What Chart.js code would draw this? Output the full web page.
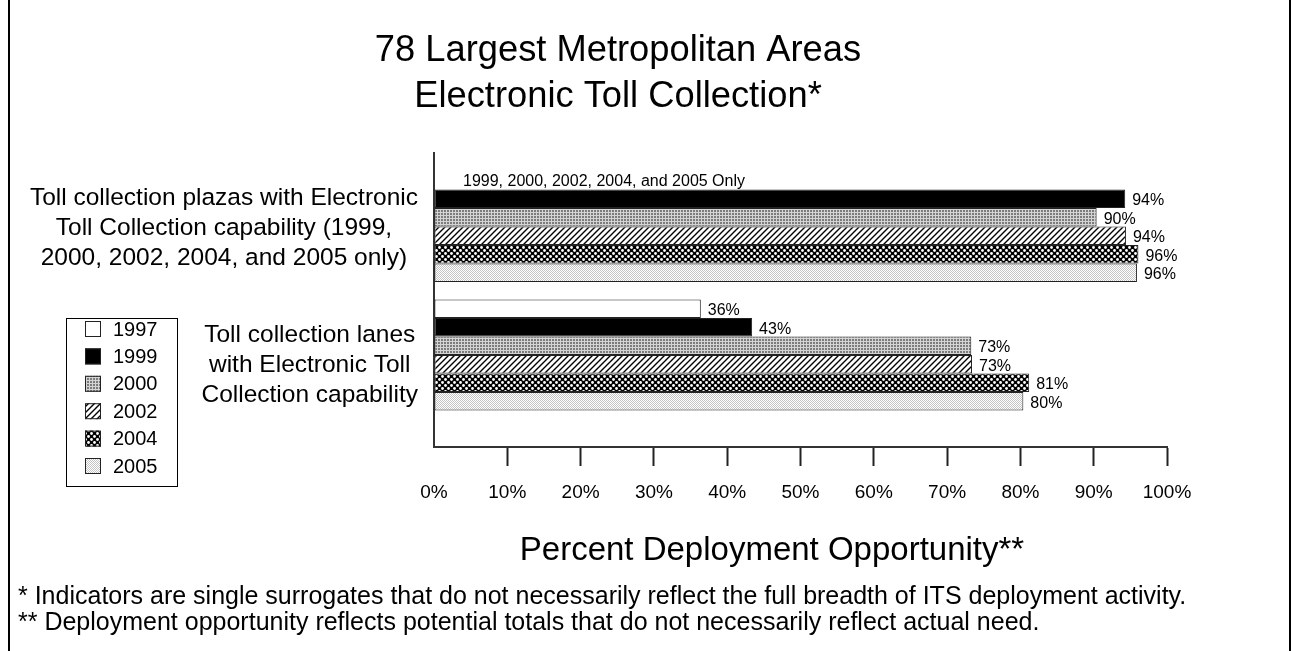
<!DOCTYPE html>
<html><head><meta charset="utf-8">
<script src="https://cdn.jsdelivr.net/npm/chart.js@4.4.1/dist/chart.umd.min.js"></script>
<style>html,body{margin:0;padding:0;background:#fff;overflow:hidden}canvas{display:block}</style>
</head><body>
<canvas id="c" width="1291" height="651"></canvas>
<script>
// ---------------- data ----------------
const categories = [
  ["Toll collection plazas with Electronic", "Toll Collection capability (1999,", "2000, 2002, 2004, and 2005 only)"],
  ["Toll collection lanes", "with Electronic Toll", "Collection capability"]
];
const years = ["1997", "1999", "2000", "2002", "2004", "2005"];
const v1997 = [null, 36.4];
const v1999 = [94.3, 43.4];
const v2000 = [90.4, 73.3];
const v2002 = [94.4, 73.4];
const v2004 = [96.1, 81.2];
const v2005 = [95.9, 80.4];
const xTicks = [0, 10, 20, 30, 40, 50, 60, 70, 80, 90, 100];
const titleLines = ["78 Largest Metropolitan Areas", "Electronic Toll Collection*"];
const axisTitle = "Percent Deployment Opportunity**";
const noteText = "1999, 2000, 2002, 2004, and 2005 Only";
const footnotes = [
  "* Indicators are single surrogates that do not necessarily reflect the full breadth of ITS deployment activity.",
  "** Deployment opportunity reflects potential totals that do not necessarily reflect actual need."
];

// ---------------- styling ----------------
const FONT = "'Liberation Sans', Arial, Helvetica, sans-serif";
Chart.defaults.font.family = FONT;
Chart.defaults.color = '#000';

const canvas = document.getElementById('c');
const ctx = canvas.getContext('2d');

function makePattern(w, h, draw) {
  const c = document.createElement('canvas');
  c.width = w; c.height = h;
  const g = c.getContext('2d');
  draw(g, w, h);
  return ctx.createPattern(c, 'repeat');
}
const fills = [
  '#ffffff',
  '#000000',
  makePattern(3, 3, g => { g.fillStyle = '#7c7c7c'; g.fillRect(0, 0, 3, 3); g.fillStyle = '#d4d4d4'; g.fillRect(0, 2, 3, 1); g.fillRect(2, 0, 1, 3); }),
  makePattern(6, 6, g => { g.fillStyle = '#fff'; g.fillRect(0, 0, 6, 6); g.strokeStyle = '#000'; g.lineWidth = 1.4;
    g.beginPath(); g.moveTo(-1, 7); g.lineTo(7, -1); g.moveTo(-4, 4); g.lineTo(4, -4); g.moveTo(2, 10); g.lineTo(10, 2); g.stroke(); }),
  makePattern(6, 6, g => { g.fillStyle = '#000'; g.fillRect(0, 0, 6, 6); g.fillStyle = '#fff';
    g.beginPath(); g.arc(1.5, 1.5, 1.4, 0, Math.PI * 2); g.fill(); g.beginPath(); g.arc(4.5, 4.5, 1.4, 0, Math.PI * 2); g.fill(); }),
  makePattern(2, 2, g => { g.fillStyle = '#fff'; g.fillRect(0, 0, 2, 2); g.fillStyle = '#c4c4c4'; g.fillRect(0, 0, 1, 1); g.fillRect(1, 1, 1, 1); })
];
const seriesValues = [v1997, v1999, v2000, v2002, v2004, v2005];

const datasets = years.map((y, k) => ({
  label: y,
  data: seriesValues[k].map((v, i) => ({ x: v, y: i })),
  backgroundColor: fills[k],
  borderColor: '#222',
  borderWidth: 1,
  borderSkipped: false,
  barPercentage: 1,
  categoryPercentage: 0.864
}));

const decor = {
  id: 'decor',
  afterDatasetsDraw(chart) {
    const c = chart.ctx;
    c.save();
    c.font = '16px ' + FONT; c.fillStyle = '#000'; c.textAlign = 'left'; c.textBaseline = 'middle';
    chart.data.datasets.forEach((ds, k) => {
      const meta = chart.getDatasetMeta(k);
      meta.data.forEach((el, i) => {
        const v = ds.data[i].x;
        if (v === null) return;
        c.fillText(Math.round(v) + '%', el.x + 7, el.y + 2);
      });
    });
    const ref = chart.getDatasetMeta(1).data[0];
    c.fillText(noteText, chart.chartArea.left + 29, ref.y - ref.height + 1);
    c.restore();
  },
  afterDraw(chart) {
    const c = chart.ctx;
    const ys = chart.scales.y;
    c.save();
    c.fillStyle = '#000';
    c.strokeStyle = '#000'; c.lineWidth = 2;
    c.beginPath(); c.moveTo(9, 0); c.lineTo(9, 651); c.moveTo(1290, 0); c.lineTo(1290, 651); c.stroke();
    c.textAlign = 'center'; c.textBaseline = 'middle';
    c.font = '36.3px ' + FONT;
    c.fillText(titleLines[0], 618, 51);
    c.fillText(titleLines[1], 618, 97);
    c.font = '33px ' + FONT;
    c.fillText(axisTitle, 772, 551);
    c.font = '24.5px ' + FONT;
    const labelOffsets = [1.5, 10];
    categories.forEach((lines, i) => {
      const w = Math.max(...lines.map(l => c.measureText(l).width));
      const cx = 418 - w / 2;
      const cy = ys.getPixelForValue(i) + labelOffsets[i];
      lines.forEach((l, j) => c.fillText(l, cx, cy + (j - (lines.length - 1) / 2) * 30));
    });
    c.fillStyle = '#fff'; c.fillRect(66, 318, 112, 168);
    c.lineWidth = 1; c.strokeStyle = '#000'; c.strokeRect(66.5, 318.5, 111, 168);
    c.font = '20px ' + FONT; c.textAlign = 'left';
    chart.data.datasets.forEach((ds, k) => {
      const yy = 329 + k * 27.4;
      c.fillStyle = ds.backgroundColor; c.fillRect(85, yy - 8, 16, 16);
      c.strokeStyle = '#222'; c.strokeRect(85.5, yy - 7.5, 15, 15);
      c.fillStyle = '#000'; c.fillText(ds.label, 113, yy + 1);
    });
    c.font = '25px ' + FONT;
    c.fillText(footnotes[0], 18, 597);
    c.fillText(footnotes[1], 18, 623);
    c.restore();
  }
};

new Chart(canvas, {
  type: 'bar',
  data: { datasets },
  options: {
    indexAxis: 'y',
    responsive: false,
    animation: false,
    layout: { padding: { top: 153, right: 124, bottom: 0, left: 0 } },
    plugins: { legend: { display: false }, tooltip: { enabled: false } },
    scales: {
      y: {
        type: 'linear', reverse: true, min: -0.572, max: 1.716,
        offset: false, bounds: 'data', grace: 0, beginAtZero: false,
        afterBuildTicks: s => { s.ticks = [{ value: 0 }, { value: 1 }]; },
        afterFit: s => { s.width = 434; },
        ticks: { display: false },
        grid: { display: true, offset: false, drawOnChartArea: false, drawTicks: false },
        border: { display: true, color: '#333', width: 2 }
      },
      x: {
        type: 'linear', min: 0, max: 100,
        afterBuildTicks: s => { s.ticks = xTicks.map(v => ({ value: v })); },
        afterFit: s => { s.height = 204; },
        ticks: { callback: v => v + '%', font: { size: 19 }, padding: 15, color: '#000', maxRotation: 0 },
        grid: { drawOnChartArea: false, drawTicks: true, tickLength: 19, tickWidth: 2,
                tickColor: c => c.index === 0 ? 'rgba(0,0,0,0)' : '#222' },
        border: { display: true, color: '#333', width: 2 }
      }
    }
  },
  plugins: [decor]
});
</script>
</body></html>
